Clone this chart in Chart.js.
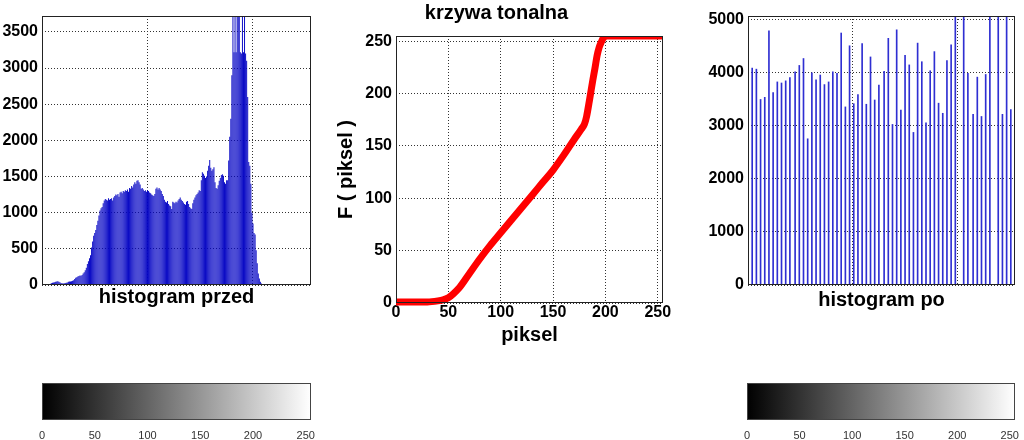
<!DOCTYPE html>
<html>
<head>
<meta charset="utf-8">
<script src="https://cdn.jsdelivr.net/npm/chart.js@4.4.1/dist/chart.umd.min.js"></script>
<style>
  html, body { margin: 0; padding: 0; background: #fff; }
  #page { position: relative; width: 1024px; height: 440px; overflow: hidden; background: #fff; }
  canvas { position: absolute; }
</style>
</head>
<body>
<div id="page">
  <canvas id="histBefore" width="330" height="320" style="left:0;top:0"></canvas>
  <canvas id="toneCurve" width="360" height="350" style="left:330px;top:0"></canvas>
  <canvas id="histAfter" width="334" height="320" style="left:690px;top:0"></canvas>
  <canvas id="barBefore" width="330" height="70" style="left:0;top:370px"></canvas>
  <canvas id="barAfter" width="334" height="70" style="left:690px;top:370px"></canvas>
</div>
<script>
// histogram przed - pixel counts for gray levels 0..255
const histBefore = [
  0, 1, 2, 3, 4, 6, 9, 14, 18, 24, 30, 34, 38, 44, 50, 52,
  46, 38, 28, 24, 22, 24, 26, 30, 36, 44, 50, 48, 52, 58, 66, 82,
  100, 106, 118, 126, 132, 128, 140, 160, 175, 205, 240, 290, 330, 370, 410, 520,
  600, 680, 720, 760, 830, 890, 960, 1030, 1060, 1080, 1130, 1170, 1190, 1180, 1170, 1200,
  1180, 1190, 1200, 1170, 1210, 1230, 1250, 1240, 1260, 1220, 1280, 1290, 1270, 1300, 1290, 1310,
  1300, 1320, 1290, 1340, 1330, 1370, 1350, 1390, 1420, 1400, 1440, 1450, 1420, 1390, 1330, 1340,
  1320, 1300, 1310, 1290, 1310, 1300, 1280, 1270, 1250, 1240, 1230, 1260, 1330, 1350, 1320, 1340,
  1320, 1300, 1260, 1230, 1180, 1150, 1140, 1160, 1120, 1100, 1090, 1050, 1150, 1140, 1130, 1150,
  1140, 1170, 1190, 1210, 1180, 1160, 1140, 1120, 1110, 1150, 1160, 1120, 1080, 1060, 1050, 1130,
  1180, 1210, 1240, 1260, 1280, 1310, 1300, 1450, 1560, 1540, 1510, 1480, 1500, 1580, 1650, 1730,
  1620, 1580, 1600, 1630, 1420, 1340, 1330, 1380, 1440, 1480, 1520, 1530, 1510, 1420, 1400, 1450,
  1450, 1720, 2050, 2300, 2900, 4200, 3220, 4600, 3220, 4400, 3800, 4100, 3220, 3200, 4300, 3220,
  4000, 3200, 3100, 2600, 1700, 1650, 1400, 1000, 850, 720, 700, 480, 300, 160, 90, 45,
  22, 12, 8, 6, 5, 4, 4, 3, 3, 3, 2, 2, 2, 2, 2, 2,
  2, 2, 2, 1, 1, 1, 1, 1, 1, 1, 1, 1, 1, 1, 1, 1,
  1, 1, 1, 1, 1, 1, 1, 1, 1, 1, 0, 0, 0, 0, 0, 0
];
const histBeforeMax = 3720;
const histBeforeTicks = [0, 500, 1000, 1500, 2000, 2500, 3000, 3500];

// histogram po - output levels after equalisation and their counts
const levelsAfter = [
  4, 8, 12, 16, 20, 24, 28, 32, 36, 40, 45, 49, 53, 57, 61, 65, 69, 73, 77, 81,
  85, 89, 93, 97, 101, 105, 109, 113, 117, 121, 125, 130, 134, 138, 142, 146, 150, 154, 158, 162,
  166, 170, 174, 178, 182, 186, 190, 194, 198, 202, 206, 210, 215, 219, 223, 227, 231, 235, 239, 243,
  247, 251
];
const histAfter = [
  4080, 4060, 3490, 3530, 4780, 3620, 3820, 3800, 3840, 3900,
  4010, 4130, 4260, 2750, 3990, 3860, 3950, 3770, 3820, 4010,
  3980, 4740, 3350, 4500, 3410, 3580, 4540, 3400, 4290, 3480,
  3760, 4020, 4640, 3020, 4800, 3290, 4320, 4140, 2870, 4550,
  4200, 3050, 4030, 4390, 3420, 3230, 4220, 4520, 6200, 0,
  7800, 3980, 3210, 3910, 3170, 3960, 6900, 0, 7300, 3210,
  5600, 3300
];
const histAfterMax = 5060;
const histAfterTicks = [0, 1000, 2000, 3000, 4000, 5000];

// gray level axis: grid positions of the histograms
const levelGrid = [0, 100, 200];

// krzywa tonalna - F(piksel)
const tonePiksel = [0, 30, 40, 45, 50, 55, 60, 70, 80, 90, 100, 110, 120, 130, 140, 150, 160, 170, 177, 180, 182, 185, 188, 190, 192, 194, 196, 198, 201, 255];
const toneF      = [1, 1, 2, 3, 5, 9, 14, 28, 42, 55, 67, 79, 91, 103, 115, 127, 141, 156, 166, 171, 178, 195, 213, 224, 236, 244, 249, 253, 255, 255];
const toneTicks  = [0, 50, 100, 150, 200, 250];

// colorbar range and ticks
const grayRange = [0, 255];
const colorbarTicks = [0, 50, 100, 150, 200, 250];

const FONT = "'Liberation Sans', Arial, Helvetica, sans-serif";
Chart.defaults.font.family = FONT;
Chart.defaults.color = '#000';
Chart.defaults.animation = false;
Chart.defaults.plugins.legend.display = false;
Chart.defaults.plugins.tooltip.enabled = false;

// matlab style box round the axes
const boxPlugin = {
  id: 'box',
  afterDatasetsDraw(chart, args, opts) {
    const a = chart.chartArea;
    const ctx = chart.ctx;
    ctx.save();
    ctx.strokeStyle = opts.color || '#222';
    ctx.lineWidth = 1;
    ctx.strokeRect(Math.round(a.left) + 0.5, Math.round(a.top) + 0.5,
      Math.round(a.right) - Math.round(a.left) - 1, Math.round(a.bottom) - Math.round(a.top) - 1);
    ctx.restore();
  }
};

const tickFont = { size: 16, weight: 'bold' };
const titleFont = { size: 20, weight: 'bold', lineHeight: 1 };
const dotted = { display: false, dash: [1, 2] };
const gridOpts = { color: '#333', lineWidth: 1, drawTicks: false, borderDash: [1, 2] };
const plain = v => String(v);
const fixedTicks = list => scale => { scale.ticks = list.map(v => ({ value: v })); };

function histScales(ymax, yTicks, yWidth, xHeight, title) {
  return {
    x: {
      type: 'linear', min: 0, max: 255, offset: false,
      ticks: { display: false },
      afterBuildTicks: fixedTicks(levelGrid),
      grid: Object.assign({ offset: false }, gridOpts), border: dotted,
      title: { display: true, text: title, font: titleFont, color: '#000', padding: 0 },
      afterFit(s) { s.height = xHeight; }
    },
    y: {
      min: 0, max: ymax,
      ticks: { font: tickFont, color: '#000', padding: 4, callback: plain },
      afterBuildTicks: fixedTicks(yTicks),
      grid: gridOpts, border: dotted,
      afterFit(s) { s.width = yWidth; }
    }
  };
}

new Chart(document.getElementById('histBefore'), {
  type: 'bar',
  data: {
    datasets: [{
      data: histBefore.map((v, i) => ({ x: i, y: v })),
      backgroundColor: '#0505c4',
      borderWidth: 0,
      categoryPercentage: 1,
      barPercentage: 0.92,
      clip: 0
    }]
  },
  options: {
    responsive: false,
    devicePixelRatio: 1,
    layout: { padding: { left: 0, top: 16, right: 19, bottom: 13 } },
    scales: histScales(histBeforeMax, histBeforeTicks, 42, 22, 'histogram przed')
  },
  plugins: [boxPlugin]
});

new Chart(document.getElementById('histAfter'), {
  type: 'bar',
  data: {
    datasets: [{
      data: levelsAfter.map((x, i) => ({ x: x, y: histAfter[i] })),
      backgroundColor: '#2f2fd2',
      borderWidth: 0,
      barThickness: 1,
      clip: 0
    }]
  },
  options: {
    responsive: false,
    devicePixelRatio: 1,
    layout: { padding: { left: 0, top: 16, right: 9, bottom: 10 } },
    scales: histScales(histAfterMax, histAfterTicks, 58, 25, 'histogram po')
  },
  plugins: [boxPlugin]
});

new Chart(document.getElementById('toneCurve'), {
  type: 'line',
  data: {
    datasets: [{
      data: tonePiksel.map((x, i) => ({ x: x, y: toneF[i] })),
      borderColor: '#ff0000',
      borderWidth: 7,
      pointRadius: 0,
      cubicInterpolationMode: 'monotone',
      borderJoinStyle: 'round',
      borderCapStyle: 'butt',
      clip: { left: 0, top: 0, right: 0, bottom: 5 }
    }]
  },
  options: {
    responsive: false,
    devicePixelRatio: 1,
    layout: { padding: { left: 0, top: 0, right: 27, bottom: 5 } },
    plugins: {
      title: {
        display: true, text: 'krzywa tonalna', color: '#000',
        font: titleFont, padding: { top: 3, bottom: 13 }
      }
    },
    scales: {
      x: {
        type: 'linear', min: 0, max: 255,
        ticks: { font: tickFont, color: '#000', padding: 0, maxRotation: 0, callback: plain },
        afterBuildTicks: fixedTicks(toneTicks),
        grid: gridOpts, border: dotted,
        title: { display: true, text: 'piksel', font: titleFont, color: '#000', padding: 0 },
        afterFit(s) { s.height = 42; }
      },
      y: {
        type: 'linear', min: 0, max: 255,
        ticks: { font: tickFont, color: '#000', padding: 4, callback: plain },
        afterBuildTicks: fixedTicks(toneTicks),
        grid: gridOpts, border: dotted,
        title: { display: true, text: 'F ( piksel )', font: titleFont, color: '#000', padding: { top: 6, bottom: 0 } },
        afterFit(s) { s.width = 66; }
      }
    }
  },
  plugins: [boxPlugin]
});

function grayGradient(ctx) {
  const area = ctx.chart.chartArea;
  if (!area) return '#888';
  const g = ctx.chart.ctx.createLinearGradient(area.left, 0, area.right, 0);
  g.addColorStop(0, '#000');
  g.addColorStop(1, '#fff');
  return g;
}

function colorbar(id, padLeft, padRight) {
  new Chart(document.getElementById(id), {
    type: 'bar',
    data: {
      labels: [''],
      datasets: [{
        data: [grayRange],
        backgroundColor: grayGradient,
        borderWidth: 0,
        categoryPercentage: 1,
        barPercentage: 1
      }]
    },
    options: {
      indexAxis: 'y',
      responsive: false,
      devicePixelRatio: 1,
      layout: { padding: { left: padLeft, right: padRight, top: 13, bottom: 0 } },
      scales: {
        x: {
          type: 'linear', min: grayRange[0], max: grayRange[1],
          ticks: { font: { size: 11 }, color: '#333', padding: 1, maxRotation: 0, callback: plain },
          afterBuildTicks: fixedTicks(colorbarTicks),
          grid: { display: false },
          border: { display: false },
          afterFit(s) { s.height = 20; }
        },
        y: { display: false }
      },
      plugins: { box: { color: '#444' } }
    },
    plugins: [boxPlugin]
  });
}

colorbar('barBefore', 42, 19);
colorbar('barAfter', 57, 9);
</script>
</body>
</html>
